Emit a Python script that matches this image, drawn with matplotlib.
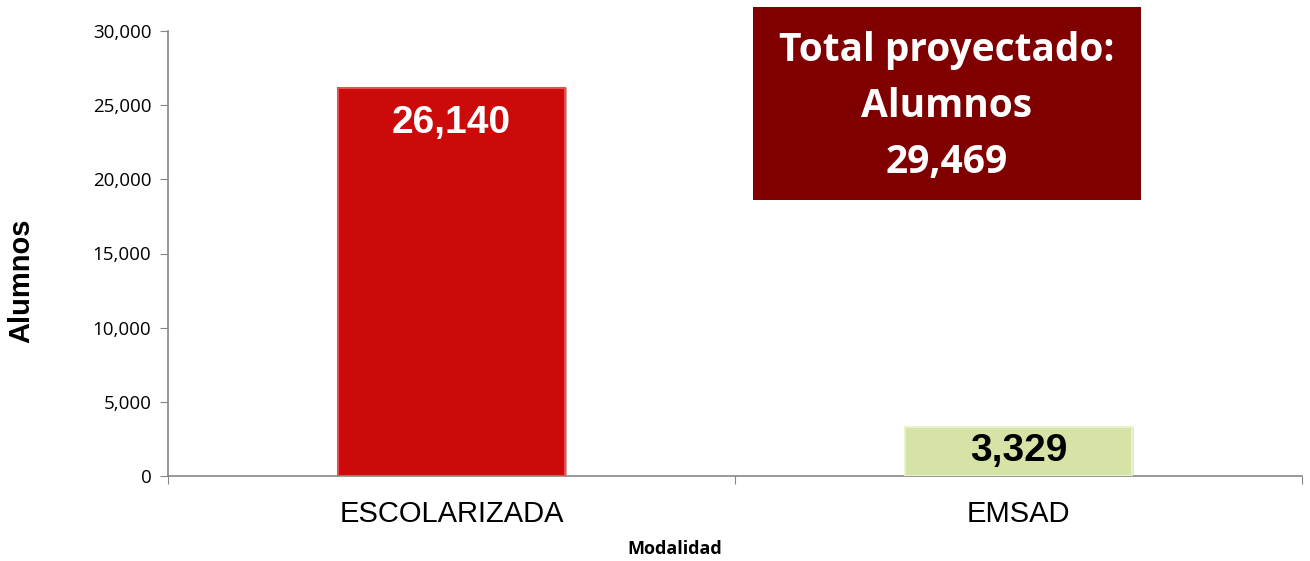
import matplotlib
matplotlib.use("Agg")
import matplotlib.pyplot as plt
from matplotlib.ticker import FuncFormatter
import matplotlib.patches as mpatches

categories = ["ESCOLARIZADA", "EMSAD"]
values = [26140, 3329]
value_labels = ["26,140", "3,329"]
total_text = ["Total proyectado:", "Alumnos", "29,469"]
y_ticks = [0, 5000, 10000, 15000, 20000, 25000, 30000]

bar_colors = ["#CC0A0A", "#D5E3A7"]
bar_edges = ["#E85050", "#E9F0CC"]
label_colors = ["white", "black"]

fig = plt.figure(figsize=(13.1, 5.61), dpi=100)
ax = fig.add_axes([168/1310, 85/561, 1134/1310, 445/561])

x = list(range(len(categories)))
bars = ax.bar(x, values, width=0.40, color=bar_colors, edgecolor=bar_edges, linewidth=1.5, zorder=3)
for b, c in zip(bars, ["#9A0000", "#A8B880"]):
    shadow = mpatches.Rectangle((b.get_x() + 0.004, 0), b.get_width(), b.get_height(),
                                facecolor=c, alpha=0.35, zorder=2, linewidth=0)
    ax.add_patch(shadow)

ax.set_xlim(-0.5, 1.5)
ax.set_ylim(0, 30000)
ax.set_yticks(y_ticks)
ax.yaxis.set_major_formatter(FuncFormatter(lambda v, p: f"{int(v):,}"))
ax.set_xticks([-0.5, 0.5, 1.5], minor=False)
ax.set_xticklabels([])
ax.set_xticks(x, minor=True)
ax.set_xticklabels(categories, minor=True, fontsize=21, family="Liberation Sans")
ax.tick_params(axis="x", which="minor", length=0, pad=17)
ax.tick_params(axis="x", which="major", length=6, color="#868686", direction="out")
ax.tick_params(axis="y", length=6, color="#868686", direction="out", labelsize=13.5, pad=6)
for t in ax.get_yticklabels():
    t.set_family("Open Sans")

for s in ["top", "right"]:
    ax.spines[s].set_visible(False)
for s in ["left", "bottom"]:
    ax.spines[s].set_color("#868686")
    ax.spines[s].set_linewidth(1.2)

# value labels
ax.text(x[0], values[0] - 1100, value_labels[0], ha="center", va="top", fontsize=28,
        fontweight="bold", color=label_colors[0], family="Liberation Sans", zorder=4)
ax.text(x[1], values[1] / 2, value_labels[1], ha="center", va="center", fontsize=28,
        fontweight="bold", color=label_colors[1], family="Liberation Sans", zorder=4)

ax.set_ylabel("Alumnos", fontsize=21, fontweight="bold", family="Liberation Sans")
ax.yaxis.set_label_coords(-0.117, 0.438)
fig.text(675/1310, 1 - 549/561, "Modalidad", ha="center", va="center", fontsize=13,
         fontweight="bold", family="Open Sans")

# total box
box_ax = fig.add_axes([753/1310, 1 - 200/561, 388/1310, 193/561])
box_ax.set_xlim(0, 1)
box_ax.set_ylim(0, 1)
box_ax.axis("off")
box_ax.add_patch(mpatches.Rectangle((0, 0), 1, 1, facecolor="#800000", edgecolor="none"))
for i, line in enumerate(total_text):
    box_ax.text(0.5, 1 - (44 + 56 * i) / 193, line, ha="center", va="center", fontsize=28,
                fontweight="bold", color="white", family="Open Sans")

fig.savefig("out.png", dpi=100)
